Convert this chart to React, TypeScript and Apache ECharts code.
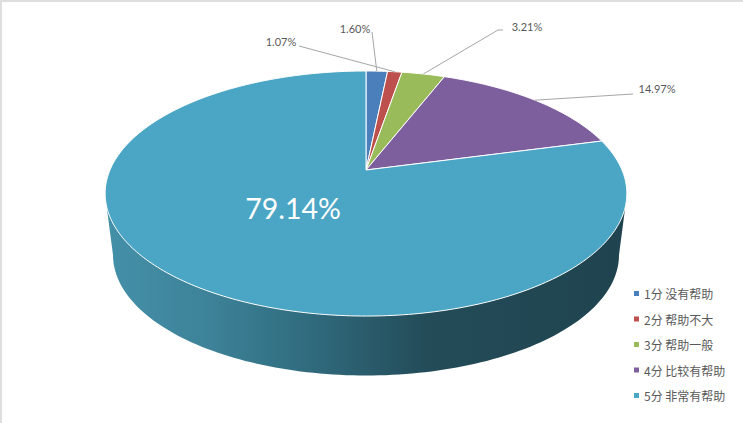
import React, { useEffect, useRef } from "react";
import * as echarts from "echarts";

const categories = ["1分 没有帮助", "2分 帮助不大", "3分 帮助一般", "4分 比较有帮助", "5分 非常有帮助"];
const shares = [1.6, 1.07, 3.21, 14.97, 79.14];
const shareLabels = ["1.60%", "1.07%", "3.21%", "14.97%", "79.14%"];
const colors = ["#4a7fbb", "#bd4f4c", "#9abb5a", "#7e5f9d", "#4aa6c4"];

const W = 743;
const H = 423;
// Perspective of the disc: the disc's true centre projects to the apex.
const APEX_X = 366;
const APEX_Y = 170;
const RX = 256;
const RY = 118;
const K = 0.192;
const TOP_CY = 193.5;
const TOP_RX = 261;
const TOP_RY = 122.5;
const BOT_CY = 255;
const BOT_RX = 253;
const BOT_RY = 120.5;
const FONT = "Lato, 'Noto Sans CJK SC', sans-serif";

const total = shares.reduce((a, b) => a + b, 0);

function project(theta: number): number[] {
  const u = Math.sin(theta);
  const v = Math.cos(theta);
  const w = 1 + K * v;
  return [APEX_X + (RX * u) / w, APEX_Y - (RY * v) / w];
}

// Leader line and label placement per slice
const leaders: (number[][] | null)[] = [
  [[372, 32]],
  [[299, 46]],
  [[503, 30], [498, 30]],
  [[633, 94]],
  null,
];
const labelPos = [
  [355, 28],
  [281, 41],
  [527, 26],
  [657, 88],
  [293, 208],
];

function sliceRender(index: number) {
  return (_params: any, api: any) => {
    const value = api.value(0);
    let before = 0;
    for (let i = 0; i < index; i++) before += shares[i];
    const a0 = (before / total) * Math.PI * 2;
    const a1 = ((before + value) / total) * Math.PI * 2;
    const n = Math.max(4, Math.ceil((a1 - a0) * 60));
    const points: number[][] = [[APEX_X, APEX_Y]];
    for (let i = 0; i <= n; i++) points.push(project(a0 + ((a1 - a0) * i) / n));
    const children: any[] = [
      {
        type: "polygon",
        shape: { points },
        style: { fill: colors[index], stroke: "#ffffff", lineWidth: 1, lineJoin: "round" },
      },
    ];
    const leader = leaders[index];
    if (leader) {
      children.push({
        type: "polyline",
        shape: { points: [...leader, project((a0 + a1) / 2)] },
        style: { fill: "none", stroke: "#a6a6a6", lineWidth: 1 },
      });
    }
    const big = index === shares.length - 1;
    children.push({
      type: "text",
      style: {
        text: shareLabels[index],
        x: labelPos[index][0],
        y: labelPos[index][1],
        fill: big ? "#ffffff" : "#595959",
        font: `${big ? 28.5 : 11}px ${FONT}`,
        textAlign: "center",
        textVerticalAlign: "middle",
      },
    });
    return { type: "group", children };
  };
}

function wallRender() {
  const points: number[][] = [];
  const n = 120;
  // lower half of the bottom rim, left to right
  for (let i = 0; i <= n; i++) {
    const t = Math.PI - (Math.PI * i) / n;
    points.push([366 + BOT_RX * Math.cos(t), BOT_CY + BOT_RY * Math.sin(t)]);
  }
  // up to the top rim, right then left
  const topY = TOP_CY + TOP_RY * 0.12;
  const dx = TOP_RX * Math.cos(Math.asin(0.12));
  points.push([366 + dx, topY]);
  points.push([366 - dx, topY]);
  return {
    type: "polygon",
    shape: { points },
    style: {
      fill: new echarts.graphic.LinearGradient(0, 0, 1, 0, [
        { offset: 0, color: "#4490a9" },
        { offset: 0.2, color: "#3d8298" },
        { offset: 0.4, color: "#2f6a7c" },
        { offset: 0.5, color: "#2a5c6c" },
        { offset: 0.62, color: "#234b58" },
        { offset: 1, color: "#1f444f" },
      ]),
    },
  };
}

export default function App() {
  const ref = useRef<HTMLDivElement>(null);
  useEffect(() => {
    const chart = echarts.init(ref.current!, undefined, { renderer: "svg" });
    chart.setOption({
      animation: false,
      backgroundColor: "#ffffff",
      legend: {
        data: categories,
        orient: "vertical",
        left: 629,
        top: 281,
        icon: "rect",
        itemWidth: 5,
        itemHeight: 5,
        itemGap: 10.5,
        selectedMode: false,
        textStyle: {
          color: "#595959",
          fontSize: 12,
          lineHeight: 15,
          fontFamily: "'Noto Sans CJK SC', sans-serif",
        },
      },
      graphic: [
        {
          type: "polyline",
          shape: { points: [[1, H], [1, 1], [W, 1]] },
          style: { fill: "none", stroke: "#dedede", lineWidth: 2 },
          silent: true,
        },
      ],
      series: [
        {
          type: "custom",
          name: "wall",
          coordinateSystem: "none",
          silent: true,
          data: [[1]],
          renderItem: wallRender,
        },
        ...categories.map((name, i) => ({
          type: "custom",
          name,
          coordinateSystem: "none",
          silent: true,
          itemStyle: { color: colors[i] },
          data: [[shares[i]]],
          renderItem: sliceRender(i),
        })),
      ],
    });
    return () => chart.dispose();
  }, []);
  return (
    <div
      ref={ref}
      style={{ position: "fixed", left: 0, top: 0, width: W, height: H }}
    />
  );
}
